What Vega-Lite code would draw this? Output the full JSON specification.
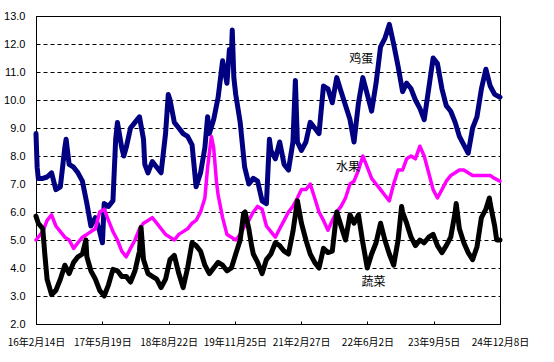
{
"$schema":"https://vega.github.io/schema/vega-lite/v6.json",
"width":464,"height":308,
"autosize":{"type":"none"},
"padding":{"left":36,"top":16,"right":54,"bottom":38},
"background":"white",
"config":{"view":{"stroke":"black","strokeWidth":1},"font":"Noto Sans CJK SC"},
"datasets":{
"egg":[
{"d":"2016-02-14","v":8.8},{"d":"2016-02-22","v":7.6},{"d":"2016-03-01","v":7.2},{"d":"2016-04-01","v":7.2},{"d":"2016-05-01","v":7.25},{"d":"2016-06-01","v":7.4},{"d":"2016-07-01","v":6.8},{"d":"2016-08-01","v":6.9},{"d":"2016-09-01","v":8.3},{"d":"2016-09-10","v":8.6},{"d":"2016-10-01","v":7.7},{"d":"2016-11-01","v":7.6},{"d":"2016-12-01","v":7.4},
{"d":"2017-01-01","v":7.1},{"d":"2017-02-01","v":6.3},{"d":"2017-03-01","v":5.5},{"d":"2017-04-01","v":5.8},{"d":"2017-05-01","v":5.3},{"d":"2017-05-20","v":4.9},{"d":"2017-06-01","v":6.3},{"d":"2017-07-01","v":6.2},{"d":"2017-08-01","v":6.4},{"d":"2017-08-20","v":8.6},{"d":"2017-09-01","v":9.2},{"d":"2017-10-01","v":8.3},{"d":"2017-10-15","v":8.0},{"d":"2017-11-01","v":8.3},{"d":"2017-12-01","v":9.0},
{"d":"2018-01-01","v":9.2},{"d":"2018-02-01","v":9.4},{"d":"2018-03-01","v":8.6},{"d":"2018-03-10","v":7.7},{"d":"2018-04-01","v":7.4},{"d":"2018-05-01","v":7.8},{"d":"2018-06-01","v":7.6},{"d":"2018-07-01","v":7.4},{"d":"2018-08-01","v":8.8},{"d":"2018-08-20","v":10.2},{"d":"2018-09-01","v":10.0},{"d":"2018-10-01","v":9.2},{"d":"2018-11-01","v":9.0},{"d":"2018-12-01","v":8.8},
{"d":"2019-01-01","v":8.7},{"d":"2019-02-01","v":8.4},{"d":"2019-03-01","v":6.9},{"d":"2019-04-01","v":7.4},{"d":"2019-05-01","v":8.3},{"d":"2019-05-20","v":9.4},{"d":"2019-06-01","v":8.8},{"d":"2019-07-01","v":9.3},{"d":"2019-08-01","v":10.1},{"d":"2019-09-01","v":11.4},{"d":"2019-10-01","v":10.6},{"d":"2019-10-18","v":11.8},{"d":"2019-11-01","v":11.6},{"d":"2019-11-07","v":12.5},{"d":"2019-11-18","v":10.8},{"d":"2019-12-01","v":10.2},
{"d":"2020-01-01","v":9.2},{"d":"2020-02-01","v":7.6},{"d":"2020-03-01","v":7.0},{"d":"2020-04-01","v":7.2},{"d":"2020-05-01","v":7.1},{"d":"2020-06-01","v":6.4},{"d":"2020-07-01","v":6.3},{"d":"2020-07-22","v":8.6},{"d":"2020-08-01","v":8.2},{"d":"2020-09-01","v":7.9},{"d":"2020-10-01","v":8.5},{"d":"2020-11-01","v":7.7},{"d":"2020-12-01","v":7.5},
{"d":"2021-01-01","v":8.5},{"d":"2021-01-18","v":10.7},{"d":"2021-02-01","v":8.5},{"d":"2021-03-01","v":8.2},{"d":"2021-04-01","v":8.5},{"d":"2021-05-01","v":9.2},{"d":"2021-06-01","v":9.0},{"d":"2021-07-01","v":8.8},{"d":"2021-08-01","v":10.5},{"d":"2021-09-01","v":10.4},{"d":"2021-10-01","v":9.9},{"d":"2021-11-01","v":10.8},{"d":"2021-12-01","v":10.3},
{"d":"2022-01-01","v":9.8},{"d":"2022-02-01","v":9.3},{"d":"2022-03-01","v":8.5},{"d":"2022-04-01","v":9.9},{"d":"2022-05-01","v":10.8},{"d":"2022-06-01","v":10.2},{"d":"2022-07-01","v":9.6},{"d":"2022-08-01","v":10.6},{"d":"2022-09-01","v":11.9},{"d":"2022-10-01","v":12.2},{"d":"2022-11-01","v":12.7},{"d":"2022-12-01","v":12.0},
{"d":"2023-01-01","v":11.2},{"d":"2023-02-01","v":10.3},{"d":"2023-03-01","v":10.6},{"d":"2023-04-01","v":10.4},{"d":"2023-05-01","v":10.0},{"d":"2023-06-01","v":9.7},{"d":"2023-07-01","v":9.3},{"d":"2023-08-01","v":10.4},{"d":"2023-09-01","v":11.5},{"d":"2023-10-01","v":11.3},{"d":"2023-11-01","v":10.4},{"d":"2023-12-01","v":9.8},
{"d":"2024-01-01","v":9.6},{"d":"2024-02-01","v":9.2},{"d":"2024-03-01","v":8.7},{"d":"2024-04-01","v":8.4},{"d":"2024-05-01","v":8.1},{"d":"2024-06-01","v":9.0},{"d":"2024-07-01","v":9.4},{"d":"2024-08-01","v":10.4},{"d":"2024-09-01","v":11.1},{"d":"2024-10-01","v":10.5},{"d":"2024-11-01","v":10.2},{"d":"2024-12-08","v":10.1}
],
"fruit":[
{"d":"2016-02-14","v":5.0},{"d":"2016-03-01","v":5.1},{"d":"2016-04-01","v":5.3},{"d":"2016-05-01","v":5.7},{"d":"2016-06-01","v":5.9},{"d":"2016-07-01","v":5.5},{"d":"2016-08-01","v":5.3},{"d":"2016-09-01","v":5.1},{"d":"2016-10-01","v":5.0},{"d":"2016-11-01","v":4.7},{"d":"2016-12-01","v":4.9},
{"d":"2017-01-01","v":5.1},{"d":"2017-02-01","v":5.2},{"d":"2017-03-01","v":5.3},{"d":"2017-04-01","v":5.4},{"d":"2017-05-01","v":6.0},{"d":"2017-06-01","v":6.1},{"d":"2017-07-01","v":5.7},{"d":"2017-08-01","v":5.3},{"d":"2017-09-01","v":5.0},{"d":"2017-10-01","v":4.6},{"d":"2017-11-01","v":4.4},{"d":"2017-12-01","v":4.7},
{"d":"2018-01-01","v":5.0},{"d":"2018-02-01","v":5.4},{"d":"2018-03-01","v":5.6},{"d":"2018-04-01","v":5.7},{"d":"2018-05-01","v":5.8},{"d":"2018-06-01","v":5.6},{"d":"2018-07-01","v":5.4},{"d":"2018-08-01","v":5.2},{"d":"2018-09-01","v":5.1},{"d":"2018-10-01","v":5.0},{"d":"2018-11-01","v":5.2},{"d":"2018-12-01","v":5.3},
{"d":"2019-01-01","v":5.4},{"d":"2019-02-01","v":5.6},{"d":"2019-03-01","v":5.7},{"d":"2019-04-01","v":6.0},{"d":"2019-05-01","v":6.5},{"d":"2019-05-20","v":7.6},{"d":"2019-06-15","v":8.7},{"d":"2019-07-01","v":8.3},{"d":"2019-07-20","v":7.1},{"d":"2019-08-01","v":6.6},{"d":"2019-09-01","v":5.8},{"d":"2019-10-01","v":5.2},{"d":"2019-11-01","v":5.1},{"d":"2019-12-01","v":5.0},
{"d":"2020-01-01","v":5.2},{"d":"2020-02-01","v":5.5},{"d":"2020-03-01","v":5.7},{"d":"2020-04-01","v":6.0},{"d":"2020-05-01","v":6.2},{"d":"2020-06-01","v":6.1},{"d":"2020-07-01","v":5.5},{"d":"2020-08-01","v":5.3},{"d":"2020-09-01","v":5.1},{"d":"2020-10-01","v":5.4},{"d":"2020-11-01","v":5.7},{"d":"2020-12-01","v":6.0},
{"d":"2021-01-01","v":6.2},{"d":"2021-02-01","v":6.5},{"d":"2021-03-01","v":6.8},{"d":"2021-04-01","v":6.8},{"d":"2021-05-01","v":7.0},{"d":"2021-06-01","v":6.5},{"d":"2021-07-01","v":6.0},{"d":"2021-08-01","v":5.7},{"d":"2021-09-01","v":5.35},{"d":"2021-10-01","v":5.7},{"d":"2021-11-01","v":6.0},{"d":"2021-12-01","v":6.2},
{"d":"2022-01-01","v":6.5},{"d":"2022-02-01","v":7.0},{"d":"2022-03-01","v":7.1},{"d":"2022-04-01","v":7.5},{"d":"2022-05-01","v":8.0},{"d":"2022-06-01","v":7.6},{"d":"2022-07-01","v":7.2},{"d":"2022-08-01","v":7.0},{"d":"2022-09-01","v":6.8},{"d":"2022-10-01","v":6.6},{"d":"2022-11-01","v":6.4},{"d":"2022-12-01","v":7.0},
{"d":"2023-01-01","v":7.5},{"d":"2023-02-01","v":7.5},{"d":"2023-03-01","v":7.9},{"d":"2023-04-01","v":8.0},{"d":"2023-05-01","v":7.9},{"d":"2023-06-01","v":8.35},{"d":"2023-07-01","v":8.0},{"d":"2023-08-01","v":7.4},{"d":"2023-09-01","v":6.8},{"d":"2023-10-01","v":6.5},{"d":"2023-11-01","v":6.8},{"d":"2023-12-01","v":7.1},
{"d":"2024-01-01","v":7.3},{"d":"2024-02-01","v":7.4},{"d":"2024-03-01","v":7.5},{"d":"2024-04-01","v":7.5},{"d":"2024-05-01","v":7.4},{"d":"2024-06-01","v":7.3},{"d":"2024-07-01","v":7.3},{"d":"2024-08-01","v":7.3},{"d":"2024-09-01","v":7.3},{"d":"2024-10-01","v":7.3},{"d":"2024-11-01","v":7.2},{"d":"2024-12-08","v":7.1}
],
"veg":[
{"d":"2016-02-14","v":5.85},{"d":"2016-03-01","v":5.6},{"d":"2016-04-01","v":5.4},{"d":"2016-04-15","v":4.5},{"d":"2016-05-01","v":3.6},{"d":"2016-06-01","v":3.05},{"d":"2016-07-01","v":3.2},{"d":"2016-08-01","v":3.6},{"d":"2016-09-01","v":4.1},{"d":"2016-10-01","v":3.8},{"d":"2016-11-01","v":4.2},{"d":"2016-12-01","v":4.4},
{"d":"2017-01-01","v":4.5},{"d":"2017-01-25","v":5.0},{"d":"2017-02-01","v":4.4},{"d":"2017-03-01","v":3.9},{"d":"2017-04-01","v":3.6},{"d":"2017-05-01","v":3.2},{"d":"2017-06-01","v":3.0},{"d":"2017-07-01","v":3.4},{"d":"2017-08-01","v":3.95},{"d":"2017-09-01","v":3.9},{"d":"2017-10-01","v":3.7},{"d":"2017-11-01","v":3.7},{"d":"2017-12-01","v":3.5},
{"d":"2018-01-01","v":3.9},{"d":"2018-02-01","v":4.6},{"d":"2018-02-12","v":5.45},{"d":"2018-03-01","v":4.3},{"d":"2018-04-01","v":3.8},{"d":"2018-05-01","v":3.7},{"d":"2018-06-01","v":3.6},{"d":"2018-07-01","v":3.3},{"d":"2018-08-01","v":3.6},{"d":"2018-09-01","v":4.3},{"d":"2018-10-01","v":4.45},{"d":"2018-11-01","v":3.8},{"d":"2018-12-01","v":3.3},
{"d":"2019-01-01","v":4.0},{"d":"2019-02-01","v":4.9},{"d":"2019-03-01","v":4.8},{"d":"2019-04-01","v":4.6},{"d":"2019-05-01","v":4.1},{"d":"2019-06-01","v":3.8},{"d":"2019-07-01","v":4.0},{"d":"2019-08-01","v":4.2},{"d":"2019-09-01","v":4.1},{"d":"2019-10-01","v":3.9},{"d":"2019-11-01","v":4.0},{"d":"2019-12-01","v":4.5},
{"d":"2020-01-01","v":5.0},{"d":"2020-01-25","v":5.95},{"d":"2020-02-04","v":6.0},{"d":"2020-03-01","v":5.4},{"d":"2020-03-20","v":4.8},{"d":"2020-04-01","v":4.5},{"d":"2020-05-01","v":4.2},{"d":"2020-06-01","v":3.8},{"d":"2020-07-01","v":4.3},{"d":"2020-08-01","v":4.5},{"d":"2020-09-01","v":4.9},{"d":"2020-10-01","v":4.8},{"d":"2020-11-01","v":4.6},{"d":"2020-12-01","v":4.5},
{"d":"2021-01-01","v":5.3},{"d":"2021-02-01","v":6.4},{"d":"2021-03-01","v":5.6},{"d":"2021-04-01","v":5.0},{"d":"2021-05-01","v":4.5},{"d":"2021-06-01","v":4.2},{"d":"2021-07-01","v":4.0},{"d":"2021-08-01","v":4.7},{"d":"2021-09-01","v":4.55},{"d":"2021-10-01","v":4.6},{"d":"2021-11-01","v":6.0},{"d":"2021-12-01","v":5.5},
{"d":"2022-01-01","v":5.0},{"d":"2022-02-01","v":5.9},{"d":"2022-03-01","v":5.6},{"d":"2022-04-01","v":5.9},{"d":"2022-05-01","v":4.9},{"d":"2022-06-01","v":4.0},{"d":"2022-07-01","v":4.5},{"d":"2022-08-01","v":4.9},{"d":"2022-09-01","v":5.6},{"d":"2022-10-01","v":5.0},{"d":"2022-11-01","v":4.5},{"d":"2022-12-01","v":4.1},
{"d":"2023-01-01","v":5.0},{"d":"2023-01-25","v":6.2},{"d":"2023-02-01","v":6.0},{"d":"2023-03-01","v":5.6},{"d":"2023-04-01","v":5.1},{"d":"2023-05-01","v":4.8},{"d":"2023-06-01","v":5.0},{"d":"2023-07-01","v":4.9},{"d":"2023-08-01","v":5.1},{"d":"2023-09-01","v":5.2},{"d":"2023-10-01","v":4.8},{"d":"2023-11-01","v":4.55},{"d":"2023-12-01","v":4.8},
{"d":"2024-01-01","v":5.1},{"d":"2024-02-01","v":6.0},{"d":"2024-02-08","v":6.3},{"d":"2024-03-01","v":5.4},{"d":"2024-04-01","v":4.9},{"d":"2024-05-01","v":4.55},{"d":"2024-06-01","v":4.3},{"d":"2024-07-01","v":4.75},{"d":"2024-08-01","v":5.8},{"d":"2024-09-01","v":6.1},{"d":"2024-09-25","v":6.5},{"d":"2024-10-01","v":6.3},{"d":"2024-11-01","v":5.5},{"d":"2024-11-15","v":5.0},{"d":"2024-12-08","v":5.0}
],
"labels":[
{"d":"2022-04-20","v":11.45,"t":"鸡蛋"},
{"d":"2022-01-18","v":7.6,"t":"水果"},
{"d":"2022-07-15","v":3.5,"t":"蔬菜"}
]
},
"encoding":{
"x":{"field":"d","type":"temporal",
 "scale":{"type":"utc","domain":[{"year":2016,"month":2,"date":14,"utc":true},{"year":2024,"month":12,"date":8,"utc":true}],"nice":false},
 "axis":{"title":null,"grid":false,
  "values":[{"year":2016,"month":2,"date":14,"utc":true},{"year":2017,"month":5,"date":19,"utc":true},{"year":2018,"month":8,"date":22,"utc":true},{"year":2019,"month":11,"date":25,"utc":true},{"year":2021,"month":2,"date":27,"utc":true},{"year":2022,"month":6,"date":2,"utc":true},{"year":2023,"month":9,"date":5,"utc":true},{"year":2024,"month":12,"date":8,"utc":true}],
  "labelExpr":"utcFormat(datum.value, '%y年%-m月%-d日')","labelOverlap":false,"labelFlush":false,"labelBound":false,
  "tickSize":-3,"tickColor":"black","domainColor":"black","labelColor":"black","labelFont":"Noto Sans CJK JP","labelFontSize":10,"labelPadding":16}},
"y":{"field":"v","type":"quantitative",
 "scale":{"domain":[2,13],"nice":false,"zero":false},
 "axis":{"title":null,"values":[2,3,4,5,6,7,8,9,10,11,12,13],"format":".1f","grid":true,"gridColor":"black","gridDash":[4,3],"gridWidth":1,"gridOpacity":1,
  "ticks":false,"domainColor":"black","labelColor":"black","labelFont":"Liberation Sans","labelFontSize":11,"labelPadding":11}}
},
"layer":[
{"data":{"name":"egg"},"mark":{"type":"line","color":"#000080","strokeWidth":5,"strokeJoin":"round","strokeCap":"round"}},
{"data":{"name":"fruit"},"mark":{"type":"line","color":"#FF00FF","strokeWidth":3.5,"strokeJoin":"round","strokeCap":"round"}},
{"data":{"name":"veg"},"mark":{"type":"line","color":"#000000","strokeWidth":5,"strokeJoin":"round","strokeCap":"round"}},
{"data":{"name":"labels"},"mark":{"type":"text","font":"Noto Sans CJK SC","fontSize":12,"color":"black"},"encoding":{"text":{"field":"t"}}}
]
}
